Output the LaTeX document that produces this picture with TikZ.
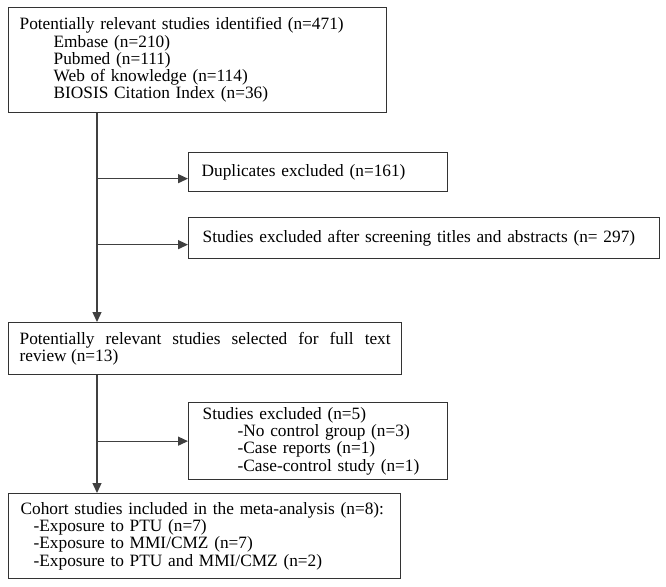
\documentclass[tikz,border=0pt]{standalone}
\usepackage{fontspec}
\setmainfont{Liberation Serif}
\usetikzlibrary{arrows.meta}
\begin{document}
\begin{tikzpicture}[x=1pt,y=-1pt,
  box/.style={draw=black!80, line width=1.3pt, anchor=north west, align=left,
    font=\fontsize{17.3pt}{17.2pt}\selectfont, inner ysep=0pt},
  conn/.style={draw=black!75, line width=1.3pt},
  arr/.style={conn, -{Triangle[length=10pt,width=9pt]}}]
\useasboundingbox (0,0) rectangle (666,586);
\node[box, minimum width=378pt, minimum height=105pt, inner xsep=11pt, text width=356pt] (b1) at (8,7)
 {Potentially relevant studies identified (n=471)\\
  \hspace*{34pt}Embase (n=210)\\
  \hspace*{34pt}Pubmed (n=111)\\
  \hspace*{34pt}Web of knowledge (n=114)\\
  \hspace*{34pt}BIOSIS Citation Index (n=36)};
\node[box, minimum width=259pt, minimum height=39pt, inner xsep=13pt, text width=233pt] (b2) at (188,152)
 {Duplicates excluded (n=161)};
\node[box, minimum width=471pt, minimum height=41pt, inner xsep=14pt, text width=443pt] (b3) at (188,217)
 {Studies excluded after screening titles and abstracts (n= 297)};
\node[box, align=justify, minimum width=393pt, minimum height=52pt, inner xsep=11pt, text width=371pt] (b4) at (8,322)
 {Potentially relevant studies selected for full text\linebreak review (n=13)};
\node[box, minimum width=259pt, minimum height=77pt, inner xsep=14pt, text width=231pt] (b5) at (188,402)
 {Studies excluded (n=5)\\
  \hspace*{35pt}-No control group (n=3)\\
  \hspace*{35pt}-Case reports (n=1)\\
  \hspace*{35pt}-Case-control study (n=1)};
\node[box, minimum width=392pt, minimum height=85pt, inner xsep=12pt, text width=368pt] (b6) at (8,493)
 {Cohort studies included in the meta-analysis (n=8):\\
  \hspace*{13pt}-Exposure to PTU (n=7)\\
  \hspace*{13pt}-Exposure to MMI/CMZ (n=7)\\
  \hspace*{13pt}-Exposure to PTU and MMI/CMZ (n=2)};
\coordinate (spine) at (97,0);
\draw[arr] (b1.south -| spine) -- (b4.north -| spine);
\draw[arr] ([yshift=-6.5pt]b2.west -| spine) -- ([yshift=-6.5pt]b2.west);
\draw[arr] ([yshift=-6.5pt]b3.west -| spine) -- ([yshift=-6.5pt]b3.west);
\draw[arr] (b4.south -| spine) -- (b6.north -| spine);
\draw[arr] (b5.west -| spine) -- (b5.west);
\end{tikzpicture}
\end{document}
